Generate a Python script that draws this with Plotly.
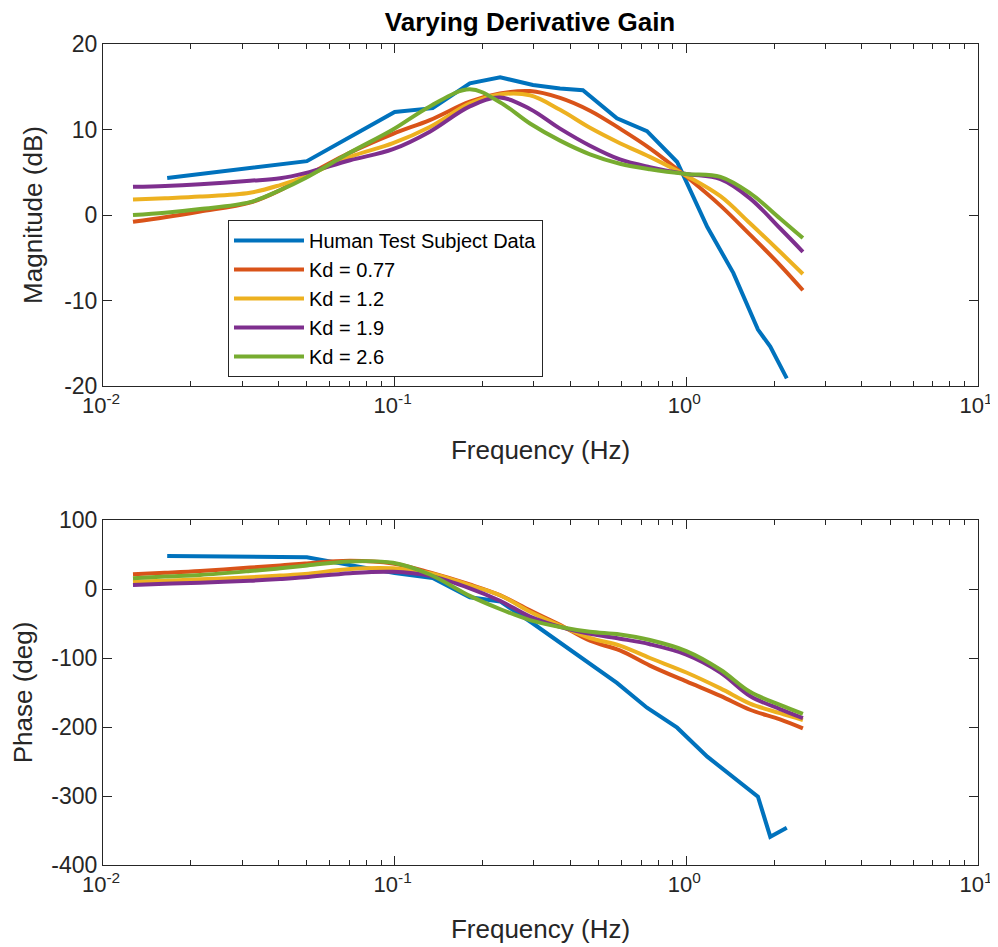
import plotly.graph_objects as go
from plotly.subplots import make_subplots

# ---- data ----
freq_human = [0.0166, 0.05, 0.1, 0.135, 0.181, 0.23, 0.298, 0.369, 0.442, 0.578, 0.733, 0.93, 1.18, 1.45, 1.76, 1.94, 2.21]
mag_human = [4.33, 6.3, 12.05, 12.5, 15.4, 16.1, 15.2, 14.8, 14.6, 11.3, 9.8, 6.2, -1.4, -6.8, -13.4, -15.4, -19.1]
phase_human = [48, 46, 23, 16, -12, -18, -50, -78, -100, -136, -172, -201, -243, -272, -301, -359, -346]

freq_model = [0.01267, 0.01631, 0.02153, 0.0319, 0.0405, 0.0493, 0.0703, 0.0987, 0.132, 0.181, 0.2295,
              0.291, 0.369, 0.4674, 0.592, 0.750, 1.0, 1.309, 1.653, 2.095, 2.51]

mag_kd077 = [-0.8, -0.27, 0.4, 1.45, 2.9, 4.5, 7.3, 9.5, 11.1, 13.25, 14.2, 14.5, 13.7, 12.2, 10.1, 7.8, 4.5, 1.1, -2.3, -5.85, -8.8]
mag_kd12 = [1.8, 1.95, 2.15, 2.6, 3.5, 4.5, 6.8, 8.4, 10.3, 13.05, 14.1, 14.0, 12.3, 10.2, 8.4, 6.8, 4.6, 2.2, -0.97, -4.3, -6.9]
mag_kd19 = [3.3, 3.4, 3.6, 4.0, 4.3, 4.9, 6.4, 7.7, 9.75, 12.7, 13.75, 12.4, 10.1, 8.1, 6.5, 5.6, 4.8, 4.2, 1.95, -1.55, -4.3]
mag_kd26 = [0.0, 0.27, 0.7, 1.5, 2.9, 4.3, 7.3, 10.0, 12.7, 14.7, 13.2, 10.7, 8.7, 7.1, 6.0, 5.35, 4.8, 4.45, 2.55, -0.4, -2.7]

ph_kd077 = [21.5, 23.5, 26, 31, 34, 37, 41, 37, 24, 6.5, -9, -31, -52, -75, -89, -111, -134, -155, -175, -189, -202]
ph_kd12 = [10.5, 12, 14, 17, 19.5, 21.7, 29, 30, 23, 5.5, -9, -33, -53, -71, -82, -100, -121, -144, -166, -180, -190]
ph_kd19 = [5.8, 7.5, 9.2, 12, 14.5, 17, 23, 25, 19, 1, -17, -40, -55, -65, -72, -80, -95, -121, -155, -174, -187]
ph_kd26 = [15.5, 18, 20.3, 26, 30, 33.8, 40, 38, 21, -10, -29, -45, -55, -62, -66, -74, -90, -117, -149, -168, -181]

series_names = ["Human Test Subject Data", "Kd = 0.77", "Kd = 1.2", "Kd = 1.9", "Kd = 2.6"]
colors = ["#0072BD", "#D95319", "#EDB120", "#7E2F8E", "#77AC30"]

x_tickvals = [0.01, 0.1, 1, 10]
x_ticktext = ["10<sup>-2</sup>", "10<sup>-1</sup>", "10<sup>0</sup>", "10<sup>1</sup>"]
x_minorvals = [m * d for d in (0.01, 0.1, 1) for m in range(2, 10)]
mag_ticks = [-20, -10, 0, 10, 20]
ph_ticks = [-400, -300, -200, -100, 0, 100]

FONT = "Liberation Sans, Arial, Helvetica, sans-serif"
AX = "#262626"
LW = 4

fig = make_subplots(rows=2, cols=1, vertical_spacing=0.1)

mags = [mag_kd077, mag_kd12, mag_kd19, mag_kd26]
phs = [ph_kd077, ph_kd12, ph_kd19, ph_kd26]

fig.add_trace(go.Scatter(x=freq_human, y=mag_human, mode="lines", name=series_names[0],
                         line=dict(color=colors[0], width=LW)), row=1, col=1)
for i in range(4):
    fig.add_trace(go.Scatter(x=freq_model, y=mags[i], mode="lines", name=series_names[i + 1],
                             line=dict(color=colors[i + 1], width=LW, shape="spline", smoothing=1.0)),
                  row=1, col=1)
fig.add_trace(go.Scatter(x=freq_human, y=phase_human, mode="lines", showlegend=False,
                         line=dict(color=colors[0], width=LW)), row=2, col=1)
for i in range(4):
    fig.add_trace(go.Scatter(x=freq_model, y=phs[i], mode="lines", showlegend=False,
                             line=dict(color=colors[i + 1], width=LW, shape="spline", smoothing=1.0)),
                  row=2, col=1)

axis_common = dict(showline=True, linecolor=AX, linewidth=1, mirror="ticks",
                   ticks="inside", ticklen=9, tickcolor=AX, showgrid=False, zeroline=False,
                   automargin=False)

for r in (1, 2):
    fig.update_xaxes(type="log", range=[-2, 1], tickmode="array", tickvals=x_tickvals, ticktext=x_ticktext,
                     tickfont=dict(family=FONT, size=22, color=AX), ticklabelshift=-2,
                     minor=dict(ticks="inside", ticklen=5, tickcolor=AX, showgrid=False,
                                tickmode="array", tickvals=x_minorvals),
                     title=dict(text="Frequency (Hz)", font=dict(family=FONT, size=26, color=AX), standoff=23),
                     row=r, col=1, **axis_common)

fig.update_yaxes(range=[-20, 20], tickmode="array", tickvals=mag_ticks, ticktext=[str(v) for v in mag_ticks],
                 tickfont=dict(family=FONT, size=23, color=AX),
                 title=dict(text="Magnitude (dB)", font=dict(family=FONT, size=26, color=AX), standoff=14),
                 row=1, col=1, **axis_common)
fig.update_yaxes(range=[-400, 100], tickmode="array", tickvals=ph_ticks, ticktext=[str(v) for v in ph_ticks],
                 tickfont=dict(family=FONT, size=23, color=AX),
                 title=dict(text="Phase (deg)", font=dict(family=FONT, size=26, color=AX), standoff=14),
                 row=2, col=1, **axis_common)

W, H = 990, 939
fig.update_layout(
    width=W, height=H,
    margin=dict(l=95, r=20, t=36, b=82),
    paper_bgcolor="white", plot_bgcolor="white",
    title=dict(text="<b>Varying Derivative Gain</b>", x=(530 - 8) / W, xanchor="center",
               y=1 - (22 - 8) / H, yanchor="middle",
               font=dict(family=FONT, size=26, color="black")),
    xaxis=dict(domain=[0, 1]), xaxis2=dict(domain=[0, 1]),
    yaxis=dict(domain=[(865 - 386) / 821, 1.0]),
    yaxis2=dict(domain=[0, (865 - 520) / 821]),
    legend=dict(x=(228 - 103) / 875, y=(865 - 220) / 821, xanchor="left", yanchor="top",
                bordercolor=AX, borderwidth=1, bgcolor="white",
                font=dict(family=FONT, size=20, color="black"), itemwidth=70,
                tracegroupgap=0),
    showlegend=True,
)

fig.write_html("out.html")
